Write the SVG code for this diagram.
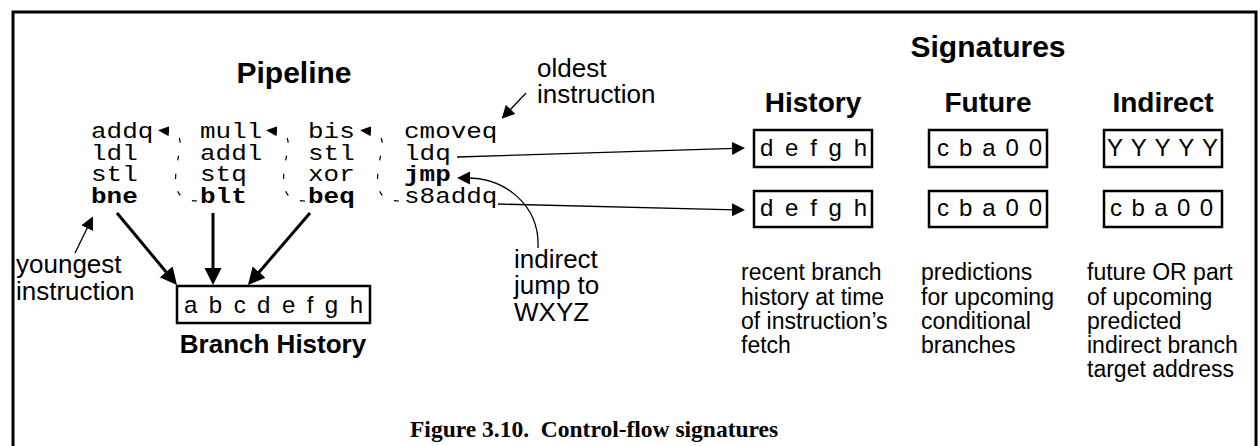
<svg xmlns="http://www.w3.org/2000/svg" width="1258" height="446" viewBox="0 0 1258 446">
<style>
.mono{font-family:"Liberation Mono","Courier New",monospace;font-size:22px;fill:#000}
.b{font-weight:bold}
.hd{font-family:"Liberation Sans",Arial,sans-serif;font-weight:bold;fill:#000}
.lbl{font-family:"Liberation Sans",Arial,sans-serif;font-size:26px;fill:#000}
.desc{font-family:"Liberation Sans",Arial,sans-serif;font-size:23px;fill:#000}
.bx{font-family:"Liberation Sans",Arial,sans-serif;font-size:24px;fill:#000}
.cap{font-family:"Liberation Serif","Times New Roman",serif;font-weight:bold;font-size:23.5px;fill:#000}
.frame{fill:none;stroke:#000;stroke-width:3}
.box{fill:#fff;stroke:#000;stroke-width:2.5}
.thick{fill:none;stroke:#000;stroke-width:3}
.thin{fill:none;stroke:#000;stroke-width:1.3}
.dash{fill:none;stroke:#000;stroke-width:1.2;stroke-dasharray:5 13}
</style>
<defs>
<marker id="big" markerUnits="userSpaceOnUse" markerWidth="18" markerHeight="18" refX="3" refY="8.5" orient="auto"><path d="M0,0 L17,8.5 L0,17 Z" fill="#000"/></marker>
<marker id="mid" markerUnits="userSpaceOnUse" markerWidth="14" markerHeight="14" refX="3" refY="6.5" orient="auto"><path d="M0,0 L13,6.5 L0,13 Z" fill="#000"/></marker>
<marker id="sm" markerUnits="userSpaceOnUse" markerWidth="12" markerHeight="11" refX="2" refY="5" orient="auto"><path d="M0,0 L11,5 L0,10 Z" fill="#000"/></marker>
</defs>
<rect width="1258" height="446" fill="#fff"/>
<path class="frame" d="M13,446 V12 H1256 V446"/>

<g id="title-pipeline"><text class="hd" x="294" y="83" font-size="30" text-anchor="middle">Pipeline</text></g>
<g id="title-signatures"><text class="hd" x="988" y="57" font-size="30" text-anchor="middle">Signatures</text></g>

<g id="col1" transform="translate(91,0) scale(1.18,1)">
<text class="mono" x="0" y="138">addq</text>
<text class="mono" x="0" y="160">ldl</text>
<text class="mono" x="0" y="181.5">stl</text>
<text class="mono b" x="0" y="203">bne</text>
</g>
<g id="col2" transform="translate(200,0) scale(1.18,1)">
<text class="mono" x="0" y="138">mull</text>
<text class="mono" x="0" y="160">addl</text>
<text class="mono" x="0" y="181.5">stq</text>
<text class="mono b" x="0" y="203">blt</text>
</g>
<g id="col3" transform="translate(308,0) scale(1.18,1)">
<text class="mono" x="0" y="138">bis</text>
<text class="mono" x="0" y="160">stl</text>
<text class="mono" x="0" y="181.5">xor</text>
<text class="mono b" x="0" y="203">beq</text>
</g>
<g id="col4" transform="translate(404,0) scale(1.18,1)">
<text class="mono" x="0" y="138">cmoveq</text>
<text class="mono" x="0" y="160">ldq</text>
<text class="mono b" x="0" y="181.5">jmp</text>
<text class="mono" x="0" y="203">s8addq</text>
</g>

<g id="oldest-label">
<text class="lbl" x="537" y="77">oldest</text>
<text class="lbl" x="537" y="103">instruction</text>
</g>
<g id="youngest-label">
<text class="lbl" x="16" y="273">youngest</text>
<text class="lbl" x="16" y="300">instruction</text>
</g>
<g id="indirect-label">
<text class="lbl" x="514" y="268">indirect</text>
<text class="lbl" x="514" y="294">jump to</text>
<text class="lbl" x="514" y="321">WXYZ</text>
</g>

<g id="branch-history">
<rect class="box" x="177" y="286" width="193" height="37" stroke-width="3"/>
<text class="bx" x="184" y="313" font-size="25" textLength="179" lengthAdjust="spacing">a b c d e f g h</text>
<text class="hd" x="273" y="353" font-size="26" text-anchor="middle">Branch History</text>
</g>

<g id="history">
<text class="hd" x="813" y="112" font-size="28" text-anchor="middle">History</text>
<rect class="box" x="754" y="130" width="118" height="37"/>
<text class="bx" x="760" y="156" textLength="107" lengthAdjust="spacing">d e f g h</text>
<rect class="box" x="754" y="191" width="118" height="36"/>
<text class="bx" x="760" y="216" textLength="107" lengthAdjust="spacing">d e f g h</text>
<text class="desc" x="741" y="280">recent branch</text>
<text class="desc" x="741" y="304.5">history at time</text>
<text class="desc" x="741" y="329">of instruction’s</text>
<text class="desc" x="741" y="353">fetch</text>
</g>
<g id="future">
<text class="hd" x="988" y="112" font-size="28" text-anchor="middle">Future</text>
<rect class="box" x="929" y="130" width="118" height="37"/>
<text class="bx" x="937" y="156" textLength="105" lengthAdjust="spacing">c b a 0 0</text>
<rect class="box" x="929" y="191" width="118" height="36"/>
<text class="bx" x="937" y="216" textLength="105" lengthAdjust="spacing">c b a 0 0</text>
<text class="desc" x="921" y="280">predictions</text>
<text class="desc" x="921" y="304.5">for upcoming</text>
<text class="desc" x="921" y="329">conditional</text>
<text class="desc" x="921" y="353">branches</text>
</g>
<g id="indirect">
<text class="hd" x="1163" y="112" font-size="28" text-anchor="middle">Indirect</text>
<rect class="box" x="1104" y="130" width="118" height="37"/>
<text class="bx" x="1107" y="156" textLength="111" lengthAdjust="spacing">Y Y Y Y Y</text>
<rect class="box" x="1104" y="191" width="118" height="36"/>
<text class="bx" x="1110" y="216" textLength="103" lengthAdjust="spacing">c b a 0 0</text>
<text class="desc" x="1087" y="280">future OR part</text>
<text class="desc" x="1087" y="304.5">of upcoming</text>
<text class="desc" x="1087" y="329">predicted</text>
<text class="desc" x="1087" y="353">indirect branch</text>
<text class="desc" x="1087" y="377">target address</text>
</g>

<g id="connectors">
<path class="dash" d="M197,201 C178,201 174,190 176,172 C178,150 188,133 167,131" marker-end="url(#sm)"/>
<path class="dash" d="M305,201 C286,201 282,190 284,172 C286,150 296,133 275,131" marker-end="url(#sm)"/>
<path class="dash" d="M399,201 C380,201 376,190 378,172 C380,150 390,133 369,131" marker-end="url(#sm)"/>
<line class="thick" x1="117" y1="213" x2="168" y2="274.2" marker-end="url(#big)"/>
<line class="thick" x1="213" y1="213" x2="213" y2="271" marker-end="url(#big)"/>
<line class="thick" x1="310" y1="213" x2="257.1" y2="274.4" marker-end="url(#big)"/>
<line class="thin" x1="75" y1="253" x2="88.5" y2="225.5" marker-end="url(#mid)"/>
<line class="thin" x1="526" y1="93" x2="508.5" y2="111.5" marker-end="url(#mid)"/>
<line class="thin" x1="457" y1="157" x2="735" y2="148.3" marker-end="url(#mid)"/>
<line class="thin" x1="498" y1="204" x2="735" y2="209.8" marker-end="url(#mid)"/>
<path class="thin" d="M538,248 C540,205 505,178 467,178" marker-end="url(#mid)"/>
</g>

<g id="caption"><text class="cap" x="410" y="437" xml:space="preserve">Figure 3.10.  Control-flow signatures</text></g>
</svg>
